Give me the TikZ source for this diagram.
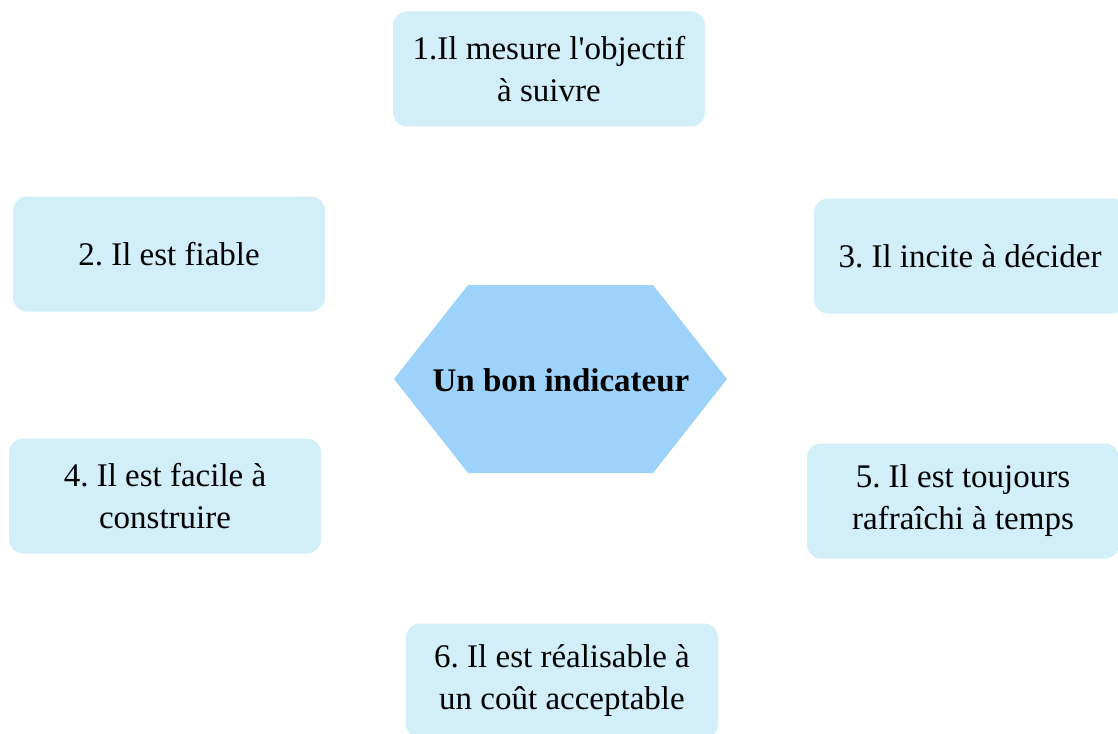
\documentclass[tikz,border=0pt]{standalone}
\usepackage{fontspec}
\setmainfont{Liberation Serif}
\frenchspacing
\definecolor{boxfill}{HTML}{D2EEF9}
\definecolor{hexfill}{HTML}{9DD3FB}
\begin{document}
\begin{tikzpicture}[x=1pt,y=-1pt,
  itembox/.style={fill=boxfill, draw=none, rounded corners=14pt, minimum width=312pt, minimum height=115pt, inner sep=0pt, align=center, font=\fontsize{33}{42}\selectfont},
  hextext/.style={inner sep=0pt, font=\fontsize{33}{40}\selectfont\bfseries}]
\useasboundingbox (0,0) rectangle (1118,733);
\fill[hexfill] (468,285) -- (653,285) -- (727,379) -- (653,473) -- (468,473) -- (394,379) -- cycle;
\node[hextext] (center) at (561,380) {Un bon indicateur};
\node[itembox] (b1) at (549,69) {1.Il mesure l\textquotesingle objectif\\à suivre};
\node[itembox] (b2) at (169,254) {2. Il est fiable};
\node[itembox] (b3) at (970,256) {3. Il incite à décider};
\node[itembox] (b4) at (165,496) {4. Il est facile à\\construire};
\node[itembox] (b5) at (963,501) {5. Il est toujours\\rafraîchi à temps};
\node[itembox] (b6) at (562,681) {6. Il est réalisable à\\un coût acceptable};
\end{tikzpicture}
\end{document}
